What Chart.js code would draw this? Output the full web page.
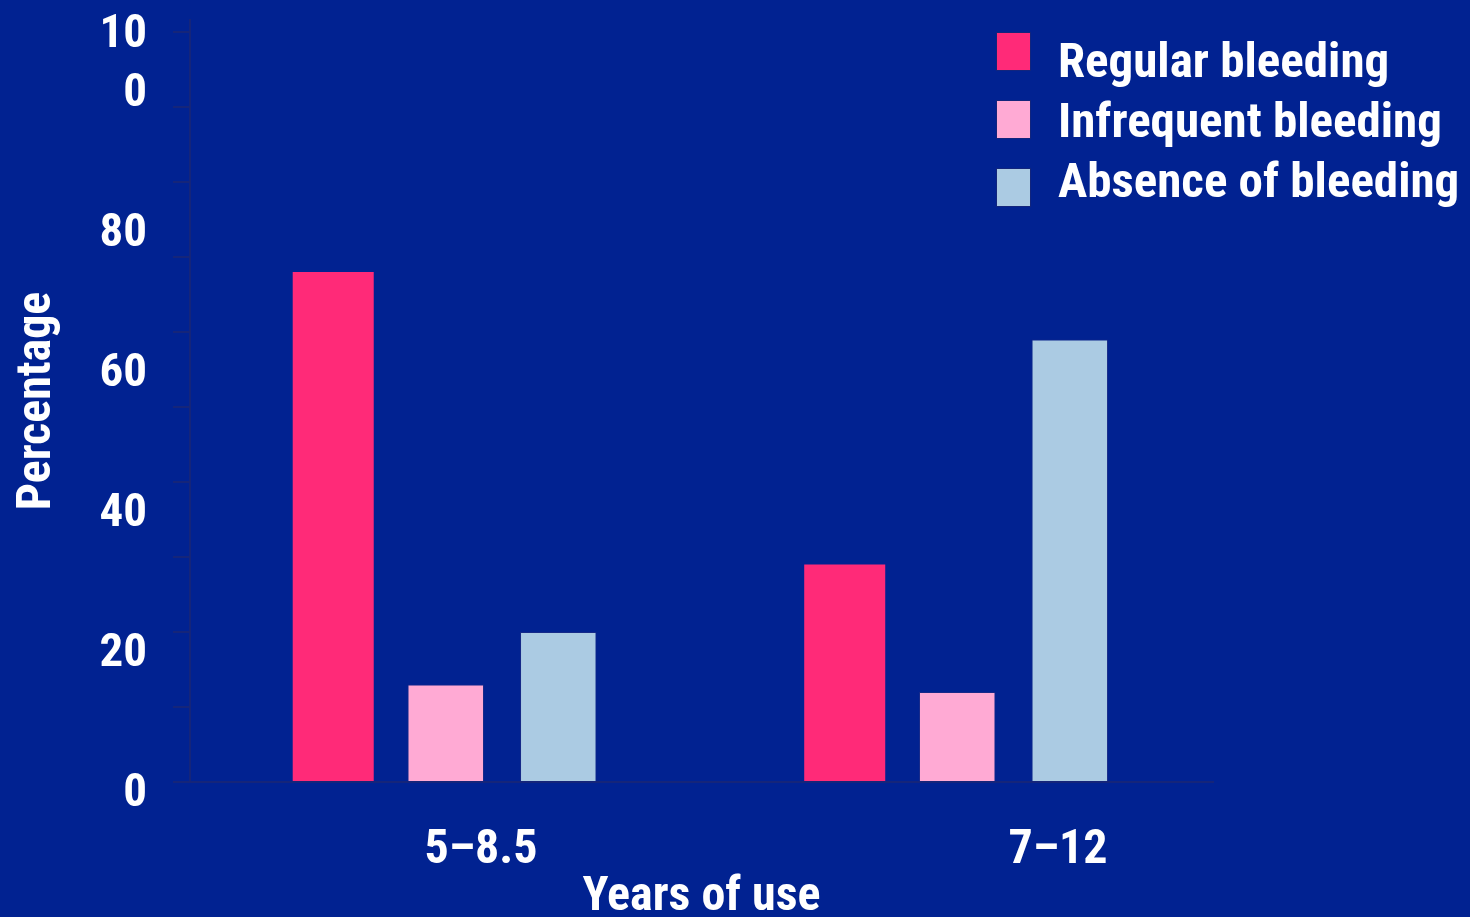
<!DOCTYPE html>
<html>
<head>
<meta charset="utf-8">
<title>Bleeding pattern by years of use</title>
<script src="https://cdn.jsdelivr.net/npm/chart.js@4.4.1/dist/chart.umd.min.js"></script>
<style>
    html, body { margin: 0; padding: 0; background: #012291; }
    .chart-wrap { position: relative; width: 1470px; height: 917px; overflow: hidden; }
    #bleedingChart { display: block; }
    .legend { position: absolute; left: 997px; top: 31px; display: flex; font-family: 'Roboto Condensed', 'Open Sans Condensed', sans-serif; font-weight: bold; font-size: 49px; color: #fff; }
    .legend-swatches { display: flex; flex-direction: column; gap: 31px; margin-top: 2px; }
    .legend-swatch { width: 33px; height: 37px; box-shadow: 0 0 0 1px rgba(30, 40, 110, 0.6); }
    .legend-labels { margin-left: 28px; line-height: 60px; white-space: nowrap; }
</style>
</head>
<body>
<div class="chart-wrap">
    <canvas id="bleedingChart" width="1470" height="917"></canvas>
    <div class="legend" id="chartLegend"></div>
</div>
<script>
const categories = ['5–8.5', '7–12'];
const seriesNames = ['Regular bleeding', 'Infrequent bleeding', 'Absence of bleeding'];
const regularBleeding = [68, 29];
const infrequentBleeding = [13, 12];
const absenceOfBleeding = [20, 59];
const seriesColors = ['#ff2a78', '#ffaad4', '#abcbe3'];
const yTickLabels = [0, 20, 40, 60, 80, 100];

const axisColor = '#15257a';
const fontFamily = "'Roboto Condensed', 'Open Sans Condensed', sans-serif";

// legend sits outside the canvas so it can hang over the right margin
function renderLegend() {
    const legend = document.getElementById('chartLegend');
    const swatches = seriesColors.map(c => `<div class="legend-swatch" style="background:${c}"></div>`).join('');
    const labels = seriesNames.map(n => `<div>${n}</div>`).join('');
    legend.innerHTML = `
        <div class="legend-swatches">${swatches}</div>
        <div class="legend-labels">${labels}</div>
    `;
}

const seriesValues = [regularBleeding, infrequentBleeding, absenceOfBleeding];
const datasets = seriesNames.map((name, i) => ({
    label: name,
    data: seriesValues[i],
    backgroundColor: seriesColors[i],
    borderColor: 'rgba(40, 50, 130, 0.55)',
    borderWidth: i === 0 ? 0 : 1,
    barPercentage: i === 0 ? 0.72 : 0.68,
    categoryPercentage: 0.66,
    xAxisID: 'x',
    yAxisID: 'y'
}));

new Chart(document.getElementById('bleedingChart'), {
    type: 'bar',
    data: { labels: categories, datasets: datasets },
    options: {
        responsive: false,
        animation: false,
        layout: { padding: { top: 20, right: 257, left: 0, bottom: 0 } },
        plugins: {
            legend: { display: false },
            tooltip: { enabled: false }
        },
        scales: {
            x: {
                type: 'category',
                position: 'bottom',
                offset: true,
                weight: 0,
                grid: { display: false, drawTicks: false },
                ticks: { display: false },
                border: { display: true, color: axisColor, width: 2 }
            },
            // category names are set on their own scale, drifting right of the bar groups
            xLabels: {
                type: 'linear',
                position: 'bottom',
                weight: 1,
                offset: false,
                min: -0.5043,
                max: 1.2686,
                afterBuildTicks: axis => { axis.ticks = categories.map((c, i) => ({ value: i })); },
                afterFit: axis => { axis.height = 135; },
                grid: { display: false, drawTicks: false, offset: false },
                border: { display: false },
                ticks: {
                    autoSkip: false,
                    maxRotation: 0,
                    padding: 40,
                    color: '#ffffff',
                    font: { family: fontFamily, size: 48, weight: 'bold', lineHeight: 1.2 },
                    callback: value => categories[value]
                },
                title: {
                    display: true,
                    text: 'Years of use',
                    color: '#ffffff',
                    padding: { top: 0, bottom: -5 },
                    font: { family: fontFamily, size: 48, weight: 'bold', lineHeight: 1 }
                }
            },
            y: {
                position: 'left',
                weight: 0,
                min: 0,
                max: 101.6,
                grid: { drawOnChartArea: false, drawTicks: true, tickLength: 17, color: axisColor, lineWidth: 2 },
                border: { display: true, color: axisColor, width: 2 },
                ticks: { display: false, stepSize: 10, includeBounds: false }
            },
            // tick numbers are spaced a little wider than the tick marks
            yLabels: {
                type: 'linear',
                position: 'left',
                weight: 1,
                min: 8 / 7,
                max: 110,
                afterBuildTicks: axis => { axis.ticks = yTickLabels.map(v => ({ value: v })); },
                afterFit: axis => {
                    axis.width = 173;
                    axis.paddingTop = 0;
                    axis.paddingBottom = 0;
                },
                grid: { display: false, drawTicks: false },
                border: { display: false },
                ticks: {
                    autoSkip: false,
                    padding: 26,
                    labelOffset: 4,
                    color: '#ffffff',
                    font: { family: fontFamily, size: 47, weight: 'bold', lineHeight: 1.24 },
                    callback: value => value === 100 ? ['10', '0', ''] : String(value)
                },
                title: {
                    display: true,
                    text: 'Percentage',
                    color: '#ffffff',
                    padding: { top: 14, bottom: 0 },
                    font: { family: fontFamily, size: 48, weight: 'bold', lineHeight: 1 }
                }
            }
        }
    }
});

renderLegend();
</script>
</body>
</html>
